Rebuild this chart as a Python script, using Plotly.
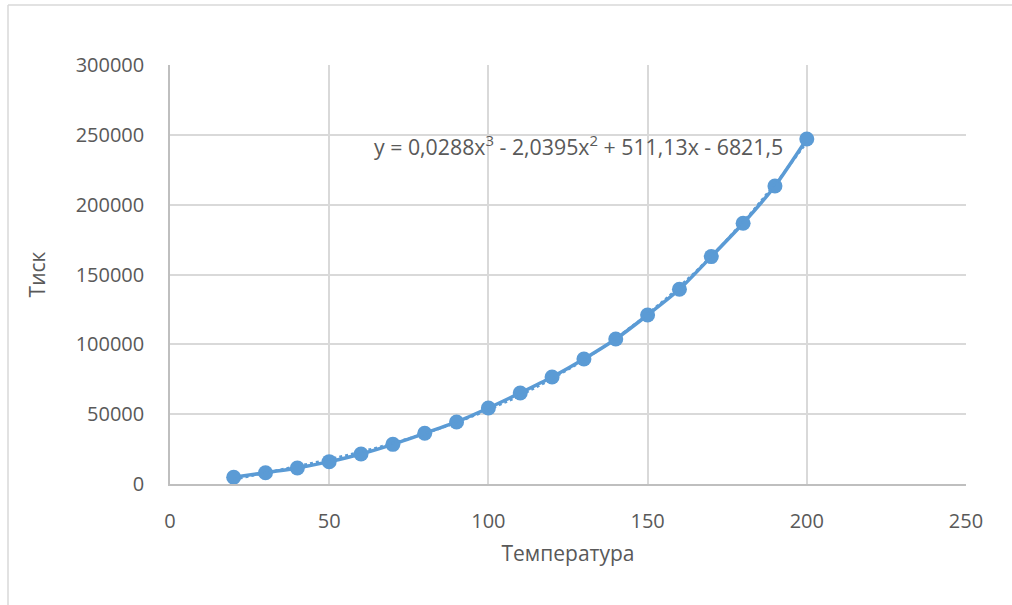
import numpy as np
import plotly.graph_objects as go

temperature = [20, 30, 40, 50, 60, 70, 80, 90, 100, 110, 120, 130, 140, 150, 160, 170, 180, 190, 200]
pressure = [4800, 8100, 11500, 16000, 21500, 28400, 36300, 44400, 54400, 65200, 76600,
            89500, 103800, 121000, 139400, 162800, 186700, 213400, 247000]

x_ticks = [0, 50, 100, 150, 200, 250]
y_ticks = [0, 50000, 100000, 150000, 200000, 250000, 300000]

equation = "y = 0,0288x<sup>3</sup> - 2,0395x<sup>2</sup> + 511,13x - 6821,5"

coef = np.polyfit(temperature, pressure, 3)
tx = np.linspace(min(temperature), max(temperature), 200)
ty = np.polyval(coef, tx)

color = "#5b9bd5"
font = "Open Sans"
txt = "#595959"

fig = go.Figure()
fig.add_trace(go.Scatter(x=temperature, y=pressure, mode="lines+markers",
                         line=dict(color=color, width=3.5, shape="spline", smoothing=0.6),
                         marker=dict(size=15, color=color),
                         showlegend=False, hoverinfo="x+y"))
fig.add_trace(go.Scatter(x=tx, y=ty, mode="lines",
                         line=dict(color=color, width=2.5, dash="dot"),
                         showlegend=False, hoverinfo="skip"))

fig.add_annotation(x=63.4, y=242700, xref="x", yref="y", text=equation, showarrow=False,
                   xanchor="left", yanchor="middle",
                   font=dict(family=font, size=21.3, color=txt))

L, R, T, B = 170, 966, 65, 484
W, H = 1012, 605
pw, ph = R - L, B - T

def px(xp):
    return (xp - L) / pw

def py(yp):
    return (B - yp) / ph

border = "#d9d9d9"
fig.add_shape(type="line", xref="paper", yref="paper", x0=px(8), x1=px(1012), y0=py(5), y1=py(5),
              line=dict(color=border, width=1.5))
fig.add_shape(type="line", xref="paper", yref="paper", x0=px(8), x1=px(8), y0=py(5), y1=py(605),
              line=dict(color=border, width=1.5))

fig.update_layout(
    width=W, height=H,
    margin=dict(l=L, r=W - R, t=T, b=H - B),
    paper_bgcolor="white", plot_bgcolor="white",
    font=dict(family=font, size=20, color=txt),
)
fig.update_xaxes(range=[0, 250], tickvals=x_ticks, ticktext=[str(v) for v in x_ticks],
                 showgrid=True, gridcolor="#d9d9d9", gridwidth=1.5,
                 showline=True, linecolor="#bfbfbf", linewidth=1.5,
                 zeroline=False, ticks="", ticklabelstandoff=18,
                 tickfont=dict(family=font, size=20, color=txt),
                 title=dict(text="Температура", standoff=14, font=dict(family=font, size=21, color=txt)))
fig.update_yaxes(range=[0, 300000], tickvals=y_ticks, ticktext=[str(v) for v in y_ticks],
                 showgrid=True, gridcolor="#d9d9d9", gridwidth=1.5,
                 showline=True, linecolor="#bfbfbf", linewidth=1.5,
                 zeroline=False, ticks="", ticklabelstandoff=20,
                 tickfont=dict(family=font, size=20, color=txt),
                 title=dict(text="Тиск", standoff=24, font=dict(family=font, size=21, color=txt)))

fig.write_html("out.html")
